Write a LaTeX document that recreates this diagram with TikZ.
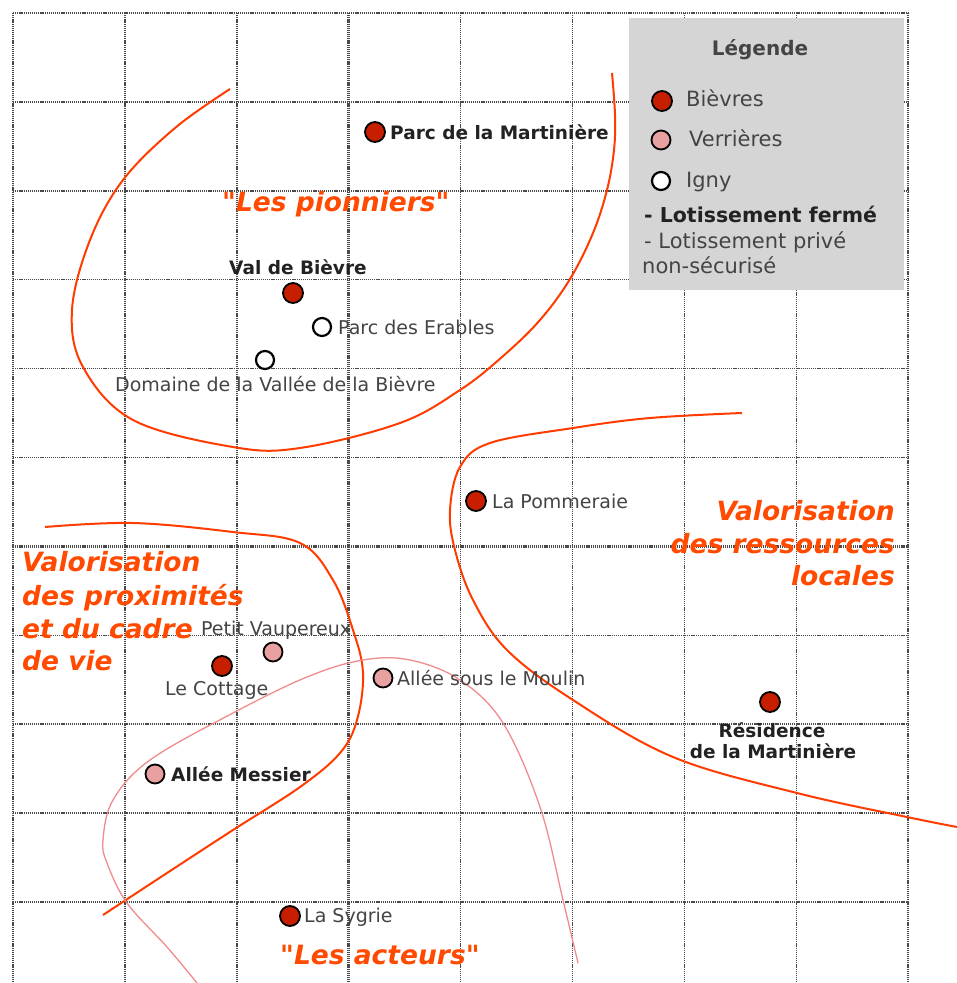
\documentclass[tikz,border=0pt]{standalone}
\usepackage{fontspec}
\setmainfont{DejaVu Sans}
\newfontfamily\titlefont{DejaVu Sans}
\definecolor{gridc}{HTML}{4A4A4A}
\definecolor{legbg}{HTML}{D5D5D5}
\definecolor{curvered}{HTML}{FF3C00}
\definecolor{curvepink}{HTML}{F08C8C}
\definecolor{titlered}{HTML}{FF4A00}
\definecolor{dotred}{HTML}{C81E00}
\definecolor{dotpink}{HTML}{E8A0A0}
\definecolor{txtgray}{HTML}{444444}
\definecolor{txtdark}{HTML}{222222}
\tikzset{
  gridline/.style={draw=gridc, line width=1.5pt, dash pattern=on 1.2pt off 0.9pt},
  gridthick/.style={gridline, line width=3pt},
  redcurve/.style={draw=curvered, line width=2pt},
  pinkcurve/.style={draw=curvepink, line width=1.3pt},
  dotbase/.style={circle, inner sep=0pt, minimum size=20pt, draw=black, line width=1.8pt},
  bievres/.style={dotbase, fill=dotred},
  verrieres/.style={dotbase, fill=dotpink, minimum size=19pt},
  igny/.style={dotbase, fill=white, minimum size=18pt, line width=2.2pt},
  lbl/.style={font=\fontsize{19}{22}\selectfont, text=txtgray, inner sep=0pt, anchor=mid west},
  lblb/.style={lbl, font=\fontsize{18.5}{22}\selectfont\bfseries, text=txtdark},
  legtxt/.style={font=\fontsize{21}{25}\selectfont, text=txtgray, inner sep=0pt, anchor=mid west},
  legtxtb/.style={legtxt, font=\fontsize{20.5}{25}\selectfont\bfseries, text=txtdark},
  title/.style={font=\titlefont\fontsize{26.5}{33}\selectfont\bfseries\itshape, text=titlered, inner sep=0pt}
}
\begin{document}
\begin{tikzpicture}[x=1pt,y=-1pt]
\useasboundingbox (0,0) rectangle (957,983);
\fill[white] (0,0) rectangle (957,983);
% grid
\foreach \i in {0,1,2,4,5,6,7,8} \draw[gridline] ({13+111.9*\i},13) -- ({13+111.9*\i},983);
\foreach \j in {0,1,2,3,4,5,7,8,9,10} \draw[gridline] (13,{13+88.9*\j}) -- (908,{13+88.9*\j});
\draw[gridthick] (348.7,13) -- (348.7,983);
\draw[gridthick] (13,546.4) -- (908,546.4);
% legend box
\fill[legbg] (629,18) rectangle (904,290);
% curves
\draw[redcurve] plot[smooth, tension=0.6] coordinates {(230,89) (175,128) (123,180) (90,240) (72,310) (83,367) (133,420) (233,447) (300,448) (400,423) (460,390) (502,357) (540,320) (570,279) (593,233) (607,190) (614,150) (615,115) (612,73)};
\draw[redcurve] plot[smooth, tension=0.6] coordinates {(742,413) (650,418) (573,428) (490,443) (460,467) (450,510) (455,550) (473,600) (507,650) (573,700) (673,757) (797,793) (907,817) (957,827)};
\draw[redcurve] plot[smooth, tension=0.6] coordinates {(45,527) (133,523) (233,532) (300,543) (333,580) (353,630) (363,673) (357,720) (340,753) (300,787) (233,830) (167,873) (103,915)};
\draw[pinkcurve] plot[smooth, tension=0.6] coordinates {(197,983) (167,947) (127,903) (107,863) (103,840) (113,800) (150,760) (233,713) (307,677) (363,660) (410,660) (460,680) (503,723) (540,807) (563,900) (578,963)};
% dots
\node[bievres] (p1) at (375,132) {};
\node[bievres] (p2) at (293,293) {};
\node[igny] (p3) at (322,327) {};
\node[igny] (p4) at (265,360) {};
\node[bievres] (p5) at (476,501) {};
\node[verrieres] (p6) at (273,652) {};
\node[bievres] (p7) at (222,666) {};
\node[verrieres] (p8) at (383,678) {};
\node[bievres] (p9) at (770,702) {};
\node[verrieres] (p10) at (155,774) {};
\node[bievres] (p11) at (290,916) {};
% labels
\node[lblb] (t1) at (390,137) {Parc de la Martinière};
\node[lblb] (t2) at (229,272) {Val de Bièvre};
\node[lbl] (t3) at (338,332) {Parc des Erables};
\node[lbl] (t4) at (115,389) {Domaine de la Vallée de la Bièvre};
\node[lbl] (t5) at (492,506) {La Pommeraie};
\node[lbl] (t6) at (201,633) {Petit Vaupereux};
\node[lbl] (t7) at (165,693) {Le Cottage};
\node[lbl] (t8) at (397,683) {Allée sous le Moulin};
\node[lblb] (t9) at (171,779) {Allée Messier};
\node[lblb, anchor=mid] (t10a) at (772,735) {Résidence};
\node[lblb, anchor=mid] (t10b) at (773,756) {de la Martinière};
\node[lbl] (t11) at (304,920) {La Sygrie};
% titles
\node[title, anchor=mid west] (h1) at (222,209) {"Les pionniers"};
\node[title, anchor=mid west] (h2) at (280,962) {"Les acteurs"};
\node[title, anchor=mid west] (h3a) at (22,569) {Valorisation};
\node[title, anchor=mid west] (h3b) at (22,603) {des proximités};
\node[title, anchor=mid west] (h3c) at (22,636) {et du cadre};
\node[title, anchor=mid west] (h3d) at (22,668) {de vie};
\node[title, anchor=mid east] (h4a) at (895,518) {Valorisation};
\node[title, anchor=mid east] (h4b) at (895,551) {des ressources};
\node[title, anchor=mid east] (h4c) at (895,583) {locales};
% legend
\node[legtxtb, anchor=mid, font=\fontsize{20}{24}\selectfont\bfseries, text=txtgray] (lg) at (760,53) {Légende};
\node[bievres] (lgd1) at (662,101) {};
\node[verrieres] (lgd2) at (661,140) {};
\node[igny] (lgd3) at (661,181) {};
\node[legtxt] (lgt1) at (686,104) {Bièvres};
\node[legtxt] (lgt2) at (689,144) {Verrières};
\node[legtxt] (lgt3) at (686,185) {Igny};
\node[legtxtb] (lgt4) at (644,220) {- Lotissement fermé};
\node[legtxt] (lgt5) at (644,246) {- Lotissement privé};
\node[legtxt] (lgt6) at (642,271) {non-sécurisé};
\end{tikzpicture}
\end{document}
